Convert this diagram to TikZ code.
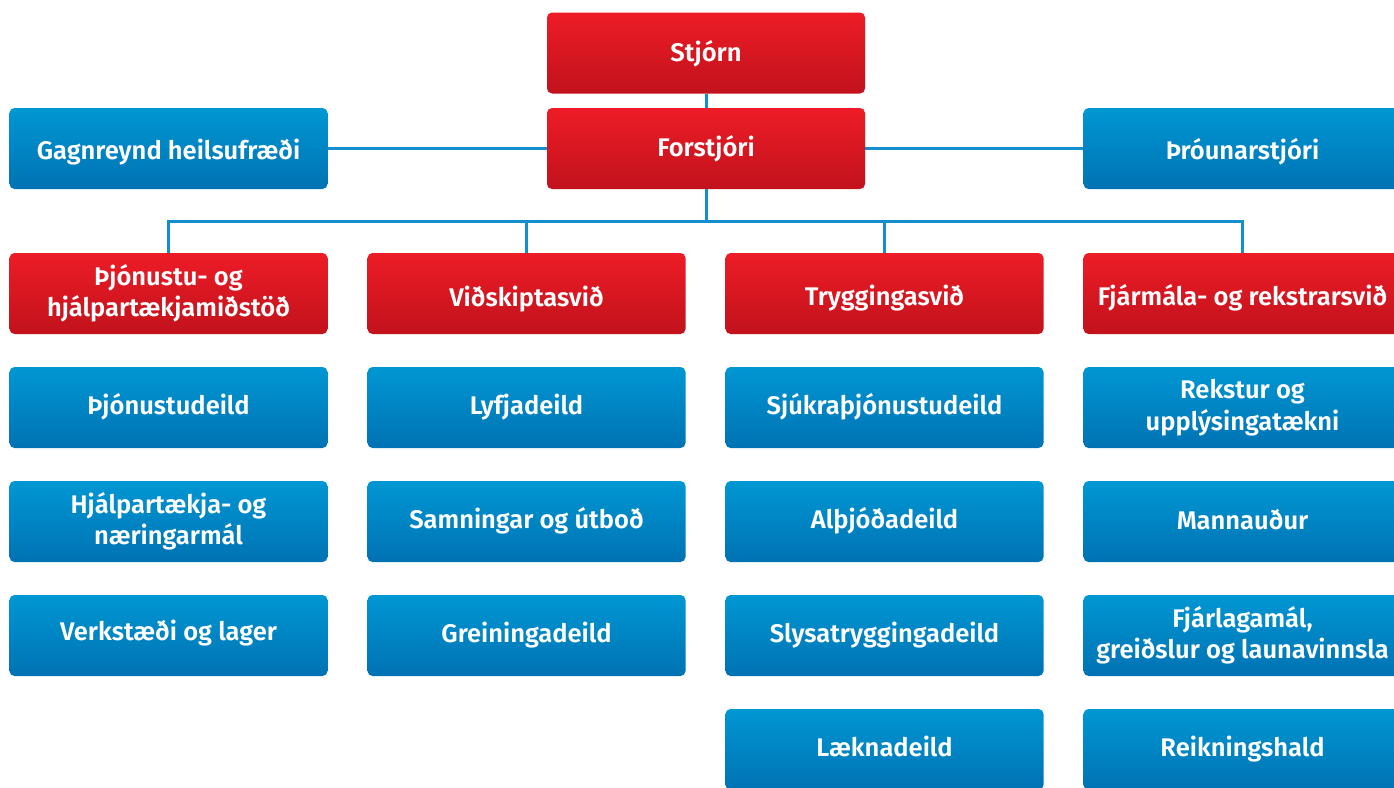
\documentclass[tikz,border=0pt]{standalone}
\usepackage{fontspec}
\setmainfont{Fira Sans}[BoldFont={Fira Sans SemiBold}]
\usetikzlibrary{backgrounds}
\definecolor{redtop}{HTML}{ED1C26}
\definecolor{redbot}{HTML}{C1121C}
\definecolor{bluetop}{HTML}{0097D3}
\definecolor{bluebot}{HTML}{0072B3}
\definecolor{linecol}{HTML}{148FCE}
\tikzset{
  box/.style={rectangle, rounded corners=5pt, minimum width=318pt, minimum height=81pt,
    inner sep=0pt, text=white, align=center,
    font=\bfseries\fontsize{25.5}{31.5}\selectfont},
  bl/.style={text height=#1, text depth=0pt},
  bl/.default=14pt,
  redbox/.style={box, top color=redtop, bottom color=redbot},
  bluebox/.style={box, top color=bluetop, bottom color=bluebot},
  conn/.style={draw=linecol, line width=3pt}
}
\begin{document}
\begin{tikzpicture}[x=1pt,y=-1pt]
\useasboundingbox (0,0) rectangle (1394,787);
\clip (0,0) rectangle (1394,787);
\node[redbox,bl=16pt] (stjorn) at (706,53) {Stjórn};
\node[redbox,bl=15pt] (forst) at (706,148.5) {Forstjóri};
\node[bluebox,bl=21pt] (gagn) at (168.5,148.5) {Gagnreynd heilsufræði};
\node[bluebox,bl=21pt] (throun) at (1242.5,148.5) {Þróunarstjóri};
\node[redbox] (r1) at (168.5,293.5) {Þjónustu- og\\hjálpartækjamiðstöð};
\node[redbox,bl=25pt] (r2) at (526.5,293.5) {Viðskiptasvið};
\node[redbox,bl=23pt] (r3) at (884.5,293.5) {Tryggingasvið};
\node[redbox,bl=24pt] (r4) at (1242.5,293.5) {Fjármála- og rekstrarsvið};
\node[bluebox,bl] (a1) at (168.5,407.5) {Þjónustudeild};
\node[bluebox] (a2) at (168.5,521.5) {Hjálpartækja- og\\næringarmál};
\node[bluebox,bl=10pt] (a3) at (168.5,635.5) {Verkstæði og lager};
\node[bluebox,bl=13pt] (b1) at (526.5,407.5) {Lyfjadeild};
\node[bluebox,bl] (b2) at (526.5,521.5) {Samningar og útboð};
\node[bluebox,bl] (b3) at (526.5,635.5) {Greiningadeild};
\node[bluebox,bl] (c1) at (884.5,407.5) {Sjúkraþjónustudeild};
\node[bluebox,bl] (c2) at (884.5,521.5) {Alþjóðadeild};
\node[bluebox,bl] (c3) at (884.5,635.5) {Slysatryggingadeild};
\node[bluebox,bl] (c4) at (884.5,749.5) {Læknadeild};
\node[bluebox] (d1) at (1242.5,407.5) {Rekstur og\\upplýsingatækni};
\node[bluebox,bl=16pt] (d2) at (1242.5,521.5) {Mannauður};
\node[bluebox] (d3) at (1242.5,635.5) {Fjárlagamál,\\greiðslur og launavinnsla};
\node[bluebox,bl] (d4) at (1242.5,749.5) {Reikningshald};
\coordinate (j) at (706,221);
\begin{scope}[on background layer]
\draw[conn] (stjorn.south) -- (forst.north);
\draw[conn] (gagn.east) -- (forst.west);
\draw[conn] (forst.east) -- (throun.west);
\draw[conn] (forst.south) -- (j);
\draw[conn] (r1.north) |- (j);
\draw[conn] (r2.north) |- (j);
\draw[conn] (r3.north) |- (j);
\draw[conn] (r4.north) |- (j);
\end{scope}
\end{tikzpicture}
\end{document}
